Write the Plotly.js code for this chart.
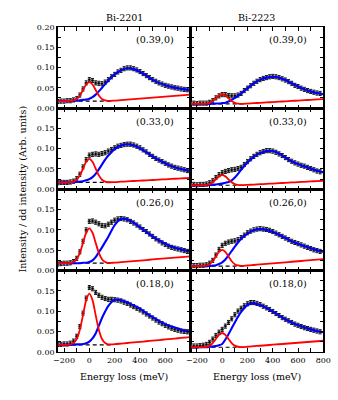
<!DOCTYPE html>
<html>
<head>
<meta charset="utf-8">
<script src="https://cdn.plot.ly/plotly-3.0.1.min.js"></script>
<style>html,body{margin:0;padding:0;background:#fff;}#chart{width:338px;height:400px;}</style>
</head>
<body>
<div id="chart"></div>
<script>
// ---- data ----
const sampleNames = ['Bi-2201', 'Bi-2223'];
const momentumLabels = ['(0.39,0)', '(0.33,0)', '(0.26,0)', '(0.18,0)'];

const energyData = [-250,-225,-200,-175,-150,-125,-100,-75,-50,-25,0,25,50,75,100,125,150,175,200,225,250,275,300,325,350,375,400,425,450,475,500,525,550,575,600,625,650,675,700,725,750,775];
const energyCurve = [-250,-200,-150,-125,-100,-75,-50,-25,0,25,50,75,100,125,150,200,250,300,350,400,450,500,550,600,650,700,750,800];
const energyDashed = [-250, 175];

// background (dashed) levels per row
const bg2201 = [0.017, 0.017, 0.018, 0.017];
const bg2223 = [0.010, 0.010, 0.011, 0.011];
// error bar half-size per row
const err2201 = [0.005, 0.005, 0.005, 0.005];
const err2223 = [0.005, 0.005, 0.005, 0.005];

// Bi-2201 (0.39,0)
const data2201_039 = [0.016,0.017,0.017,0.018,0.018,0.020,0.023,0.032,0.047,0.062,0.070,0.068,0.062,0.061,0.060,0.064,0.070,0.077,0.083,0.089,0.093,0.097,0.099,0.099,0.097,0.094,0.090,0.085,0.080,0.075,0.070,0.066,0.062,0.059,0.056,0.054,0.052,0.050,0.049,0.047,0.046,0.045];
const red2201_039 = [0.017,0.017,0.0174,0.0186,0.0224,0.0309,0.0443,0.058,0.064,0.058,0.0443,0.0309,0.0224,0.0186,0.0174,0.0182,0.0195,0.0207,0.022,0.0232,0.0244,0.0256,0.0268,0.0281,0.0293,0.0305,0.0318,0.033];
const blue2201_039 = [0.017,0.017,0.0175,0.018,0.018,0.019,0.020,0.021,0.023,0.027,0.033,0.041,0.050,0.059,0.068,0.083,0.093,0.098,0.096,0.089,0.080,0.070,0.062,0.056,0.052,0.049,0.046,0.045];
// Bi-2201 (0.33,0)
const data2201_033 = [0.016,0.017,0.017,0.017,0.018,0.020,0.026,0.037,0.055,0.073,0.084,0.086,0.087,0.086,0.088,0.090,0.094,0.098,0.102,0.106,0.108,0.110,0.111,0.111,0.109,0.106,0.102,0.097,0.092,0.086,0.081,0.076,0.072,0.068,0.064,0.060,0.057,0.054,0.052,0.050,0.048,0.046];
const red2201_033 = [0.017,0.017,0.0174,0.019,0.0236,0.0342,0.0507,0.0676,0.075,0.0676,0.0507,0.0342,0.0236,0.019,0.0174,0.0178,0.0187,0.0195,0.0204,0.0212,0.0221,0.0229,0.0238,0.0246,0.0255,0.0263,0.0272,0.028];
const blue2201_033 = [0.017,0.017,0.017,0.0175,0.018,0.019,0.020,0.022,0.025,0.030,0.038,0.049,0.061,0.073,0.083,0.099,0.108,0.111,0.108,0.101,0.091,0.081,0.072,0.064,0.057,0.052,0.048,0.045];
// Bi-2201 (0.26,0)
const data2201_026 = [0.016,0.017,0.018,0.018,0.019,0.022,0.030,0.046,0.072,0.100,0.121,0.122,0.119,0.115,0.111,0.110,0.114,0.119,0.124,0.127,0.128,0.127,0.125,0.121,0.117,0.112,0.107,0.101,0.096,0.090,0.084,0.078,0.073,0.068,0.064,0.060,0.057,0.055,0.053,0.051,0.049,0.047];
const red2201_026 = [0.018,0.018,0.0187,0.0209,0.0278,0.0435,0.068,0.093,0.104,0.093,0.068,0.0435,0.0278,0.0209,0.0187,0.0193,0.0206,0.0219,0.0232,0.0245,0.0258,0.0272,0.0285,0.0298,0.0311,0.0324,0.0337,0.035];
const blue2201_026 = [0.018,0.018,0.018,0.018,0.018,0.018,0.019,0.019,0.021,0.025,0.033,0.045,0.057,0.070,0.083,0.112,0.127,0.126,0.118,0.106,0.095,0.084,0.074,0.066,0.059,0.054,0.050,0.047];
// Bi-2201 (0.18,0)
const data2201_018 = [0.018,0.018,0.019,0.019,0.021,0.026,0.038,0.062,0.095,0.132,0.158,0.155,0.146,0.139,0.134,0.131,0.129,0.129,0.128,0.127,0.125,0.122,0.119,0.115,0.111,0.107,0.103,0.098,0.093,0.088,0.083,0.078,0.073,0.069,0.065,0.061,0.058,0.055,0.053,0.051,0.050,0.049];
const red2201_018 = [0.017,0.017,0.018,0.0213,0.0314,0.0543,0.090,0.127,0.143,0.127,0.090,0.0543,0.0314,0.0213,0.018,0.0185,0.0199,0.0214,0.0228,0.0243,0.0258,0.0272,0.0287,0.0302,0.0316,0.0331,0.0345,0.036];
const blue2201_018 = [0.017,0.017,0.017,0.017,0.018,0.018,0.019,0.021,0.025,0.033,0.045,0.064,0.083,0.099,0.113,0.128,0.127,0.121,0.114,0.106,0.095,0.085,0.076,0.068,0.062,0.057,0.052,0.049];

// Bi-2223 (0.39,0)
const data2223_039 = [0.011,0.012,0.011,0.012,0.012,0.012,0.014,0.018,0.025,0.030,0.033,0.033,0.031,0.030,0.030,0.032,0.036,0.043,0.049,0.055,0.061,0.066,0.070,0.073,0.075,0.077,0.078,0.077,0.075,0.072,0.069,0.065,0.061,0.056,0.053,0.049,0.046,0.043,0.041,0.039,0.037,0.036];
const red2223_039 = [0.010,0.010,0.0102,0.0108,0.0127,0.0171,0.0239,0.031,0.034,0.031,0.0239,0.0171,0.0127,0.0108,0.0102,0.0109,0.0118,0.0128,0.0137,0.0146,0.0155,0.0165,0.0174,0.0183,0.0192,0.0202,0.0211,0.022];
const blue2223_039 = [0.010,0.010,0.010,0.010,0.010,0.0105,0.011,0.011,0.012,0.013,0.016,0.020,0.025,0.030,0.036,0.049,0.061,0.070,0.075,0.077,0.075,0.069,0.061,0.053,0.046,0.041,0.037,0.034];
// Bi-2223 (0.33,0)
const data2223_033 = [0.011,0.012,0.011,0.012,0.012,0.013,0.016,0.021,0.029,0.036,0.041,0.044,0.046,0.048,0.049,0.051,0.054,0.061,0.068,0.075,0.081,0.086,0.090,0.093,0.095,0.095,0.094,0.091,0.087,0.083,0.078,0.073,0.069,0.065,0.062,0.059,0.057,0.054,0.051,0.048,0.045,0.043];
const red2223_033 = [0.010,0.010,0.0102,0.0109,0.0129,0.0174,0.0245,0.0318,0.035,0.0318,0.0245,0.0174,0.0129,0.0109,0.0102,0.0108,0.0117,0.0125,0.0134,0.0142,0.0151,0.0159,0.0168,0.0176,0.0185,0.0193,0.0202,0.021];
const blue2223_033 = [0.010,0.010,0.010,0.010,0.0105,0.011,0.012,0.013,0.014,0.016,0.018,0.022,0.029,0.038,0.048,0.066,0.080,0.089,0.094,0.094,0.088,0.078,0.069,0.062,0.056,0.051,0.046,0.042];
// Bi-2223 (0.26,0)
const data2223_026 = [0.012,0.012,0.012,0.013,0.013,0.014,0.018,0.025,0.038,0.052,0.062,0.067,0.070,0.072,0.073,0.076,0.081,0.087,0.093,0.097,0.100,0.102,0.103,0.102,0.101,0.099,0.096,0.092,0.088,0.084,0.080,0.076,0.072,0.069,0.066,0.063,0.060,0.057,0.054,0.051,0.049,0.047];
const red2223_026 = [0.011,0.011,0.0113,0.0124,0.0156,0.0228,0.0342,0.0459,0.051,0.0459,0.0342,0.0228,0.0156,0.0124,0.0113,0.0123,0.0136,0.0149,0.0162,0.0175,0.0188,0.0202,0.0215,0.0228,0.0241,0.0254,0.0267,0.028];
const blue2223_026 = [0.011,0.011,0.011,0.011,0.011,0.012,0.013,0.016,0.020,0.027,0.037,0.048,0.059,0.069,0.078,0.091,0.099,0.102,0.100,0.095,0.088,0.080,0.072,0.066,0.060,0.055,0.050,0.046];
// Bi-2223 (0.18,0)
const data2223_018 = [0.014,0.014,0.014,0.015,0.016,0.018,0.023,0.031,0.040,0.048,0.055,0.063,0.072,0.081,0.091,0.100,0.107,0.113,0.118,0.121,0.121,0.119,0.116,0.112,0.108,0.104,0.099,0.094,0.089,0.084,0.080,0.076,0.072,0.068,0.065,0.062,0.059,0.057,0.055,0.053,0.051,0.049];
const red2223_018 = [0.011,0.011,0.0113,0.0122,0.015,0.0214,0.0313,0.0416,0.046,0.0416,0.0313,0.0214,0.015,0.0122,0.0113,0.0122,0.0135,0.0147,0.0159,0.0172,0.0184,0.0196,0.0208,0.0221,0.0233,0.0245,0.0258,0.027];
const blue2223_018 = [0.011,0.011,0.011,0.011,0.012,0.013,0.014,0.016,0.019,0.030,0.043,0.058,0.072,0.086,0.098,0.115,0.119,0.115,0.108,0.099,0.089,0.080,0.072,0.065,0.060,0.055,0.051,0.048];

// tick labels
const xTickVals = [-200,-100,0,100,200,300,400,500,600,700,800];
const xTickTextLeft = ['\u2212200','','0','','200','','400','','600','',''];
const xTickTextRight = ['\u2212200','','0','','200','','400','','600','','800'];
const yTickVals = [0,0.025,0.05,0.075,0.10,0.125,0.15,0.175,0.20];
const yTickTextTop = ['0.00','','0.05','','0.10','','0.15','','0.20'];
const yTickTextLower = ['0.00','','0.05','','0.10','','0.15','',''];

// ---- build ----
const panels = [
  [data2201_039, red2201_039, blue2201_039, data2223_039, red2223_039, blue2223_039],
  [data2201_033, red2201_033, blue2201_033, data2223_033, red2223_033, blue2223_033],
  [data2201_026, red2201_026, blue2201_026, data2223_026, red2223_026, blue2223_026],
  [data2201_018, red2201_018, blue2201_018, data2223_018, red2223_018, blue2223_018]
];

const W = 338, H = 400;
const colPx = [[57.7, 190.6], [190.6, 323.3]];
const rowPx = [[27, 108], [108, 189.3], [189.3, 270.5], [270.5, 351.7]];
const FONT = 'DejaVu Serif';

const traces = [];
const layout = {
  width: W, height: H,
  margin: {l: 0, r: 0, t: 0, b: 0},
  paper_bgcolor: '#fff', plot_bgcolor: '#fff',
  showlegend: false,
  font: {family: FONT, size: 8, color: '#000'},
  annotations: []
};

for (let r = 0; r < 4; r++) {
  for (let c = 0; c < 2; c++) {
    const idx = r * 2 + c + 1;
    const xa = idx === 1 ? 'x' : 'x' + idx;
    const ya = idx === 1 ? 'y' : 'y' + idx;
    const dataArr = panels[r][c * 3];
    const redArr = panels[r][c * 3 + 1];
    const blueArr = panels[r][c * 3 + 2];
    const bg = c === 0 ? bg2201[r] : bg2223[r];
    const err = c === 0 ? err2201[r] : err2223[r];

    traces.push({
      x: energyData, y: dataArr, xaxis: xa, yaxis: ya, type: 'scatter', mode: 'markers',
      marker: {color: '#000', size: 3, line: {color: 'rgba(130,130,130,0.7)', width: 0.8}},
      error_y: {type: 'constant', value: err, color: '#000', thickness: 1, width: 1.5},
      hoverinfo: 'skip'
    });
    traces.push({
      x: energyDashed, y: [bg, bg], xaxis: xa, yaxis: ya, type: 'scatter', mode: 'lines',
      line: {color: '#000', width: 1.2, dash: '4px,3px'}, hoverinfo: 'skip'
    });
    traces.push({
      x: energyCurve, y: blueArr, xaxis: xa, yaxis: ya, type: 'scatter', mode: 'lines',
      line: {color: '#0000ff', width: 2.1, shape: 'spline', smoothing: 0.8}, hoverinfo: 'skip'
    });
    traces.push({
      x: energyCurve, y: redArr, xaxis: xa, yaxis: ya, type: 'scatter', mode: 'lines',
      line: {color: '#ff0000', width: 1.8, shape: 'spline', smoothing: 0.8}, hoverinfo: 'skip'
    });

    const xkey = idx === 1 ? 'xaxis' : 'xaxis' + idx;
    const ykey = idx === 1 ? 'yaxis' : 'yaxis' + idx;
    layout[xkey] = {
      domain: [colPx[c][0] / W, colPx[c][1] / W],
      anchor: ya, range: [-250, 800],
      tickmode: 'array', tickvals: xTickVals,
      ticktext: c === 0 ? xTickTextLeft : xTickTextRight,
      showticklabels: r === 3,
      ticks: 'inside', ticklen: 3.5, tickwidth: 1, tickcolor: '#000',
      showline: true, linecolor: '#000', linewidth: 1.5, mirror: 'ticks',
      showgrid: false, zeroline: false,
      tickfont: {family: FONT, size: 8, color: '#000'}
    };
    layout[ykey] = {
      domain: [1 - rowPx[r][1] / H, 1 - rowPx[r][0] / H],
      anchor: xa, range: [0, 0.2],
      tickmode: 'array', tickvals: yTickVals,
      ticktext: r === 0 ? yTickTextTop : yTickTextLower,
      showticklabels: c === 0,
      ticks: 'inside', ticklen: 3.5, tickwidth: 1, tickcolor: '#000',
      showline: true, linecolor: '#000', linewidth: 1.5, mirror: 'ticks',
      showgrid: false, zeroline: false,
      tickfont: {family: FONT, size: 8, color: '#000'}
    };
    layout.annotations.push({
      text: momentumLabels[r], xref: xa + ' domain', yref: ya + ' domain',
      x: 0.89, y: 0.84, xanchor: 'right', yanchor: 'middle', showarrow: false,
      font: {family: FONT, size: 9.5, color: '#000'}
    });
  }
}

// column titles and x titles
for (let c = 0; c < 2; c++) {
  layout.annotations.push({
    text: sampleNames[c], xref: 'paper', yref: 'paper',
    x: (colPx[c][0] + colPx[c][1]) / 2 / W, y: 1 - 17.3 / H,
    xanchor: 'center', yanchor: 'middle', showarrow: false,
    font: {family: FONT, size: 9.5, color: '#000'}
  });
  layout.annotations.push({
    text: 'Energy loss (meV)', xref: 'paper', yref: 'paper',
    x: (colPx[c][0] + colPx[c][1]) / 2 / W, y: 1 - 376.7 / H,
    xanchor: 'center', yanchor: 'middle', showarrow: false,
    font: {family: FONT, size: 9.5, color: '#000'}
  });
}
layout.annotations.push({
  text: 'Intensity / dd intensity (Arb. units)', xref: 'paper', yref: 'paper',
  x: 22.5 / W, y: 1 - 189 / H, textangle: -90,
  xanchor: 'center', yanchor: 'middle', showarrow: false,
  font: {family: FONT, size: 9.5, color: '#000'}
});

Plotly.newPlot('chart', traces, layout, {staticPlot: true, displayModeBar: false});
</script>
</body>
</html>
